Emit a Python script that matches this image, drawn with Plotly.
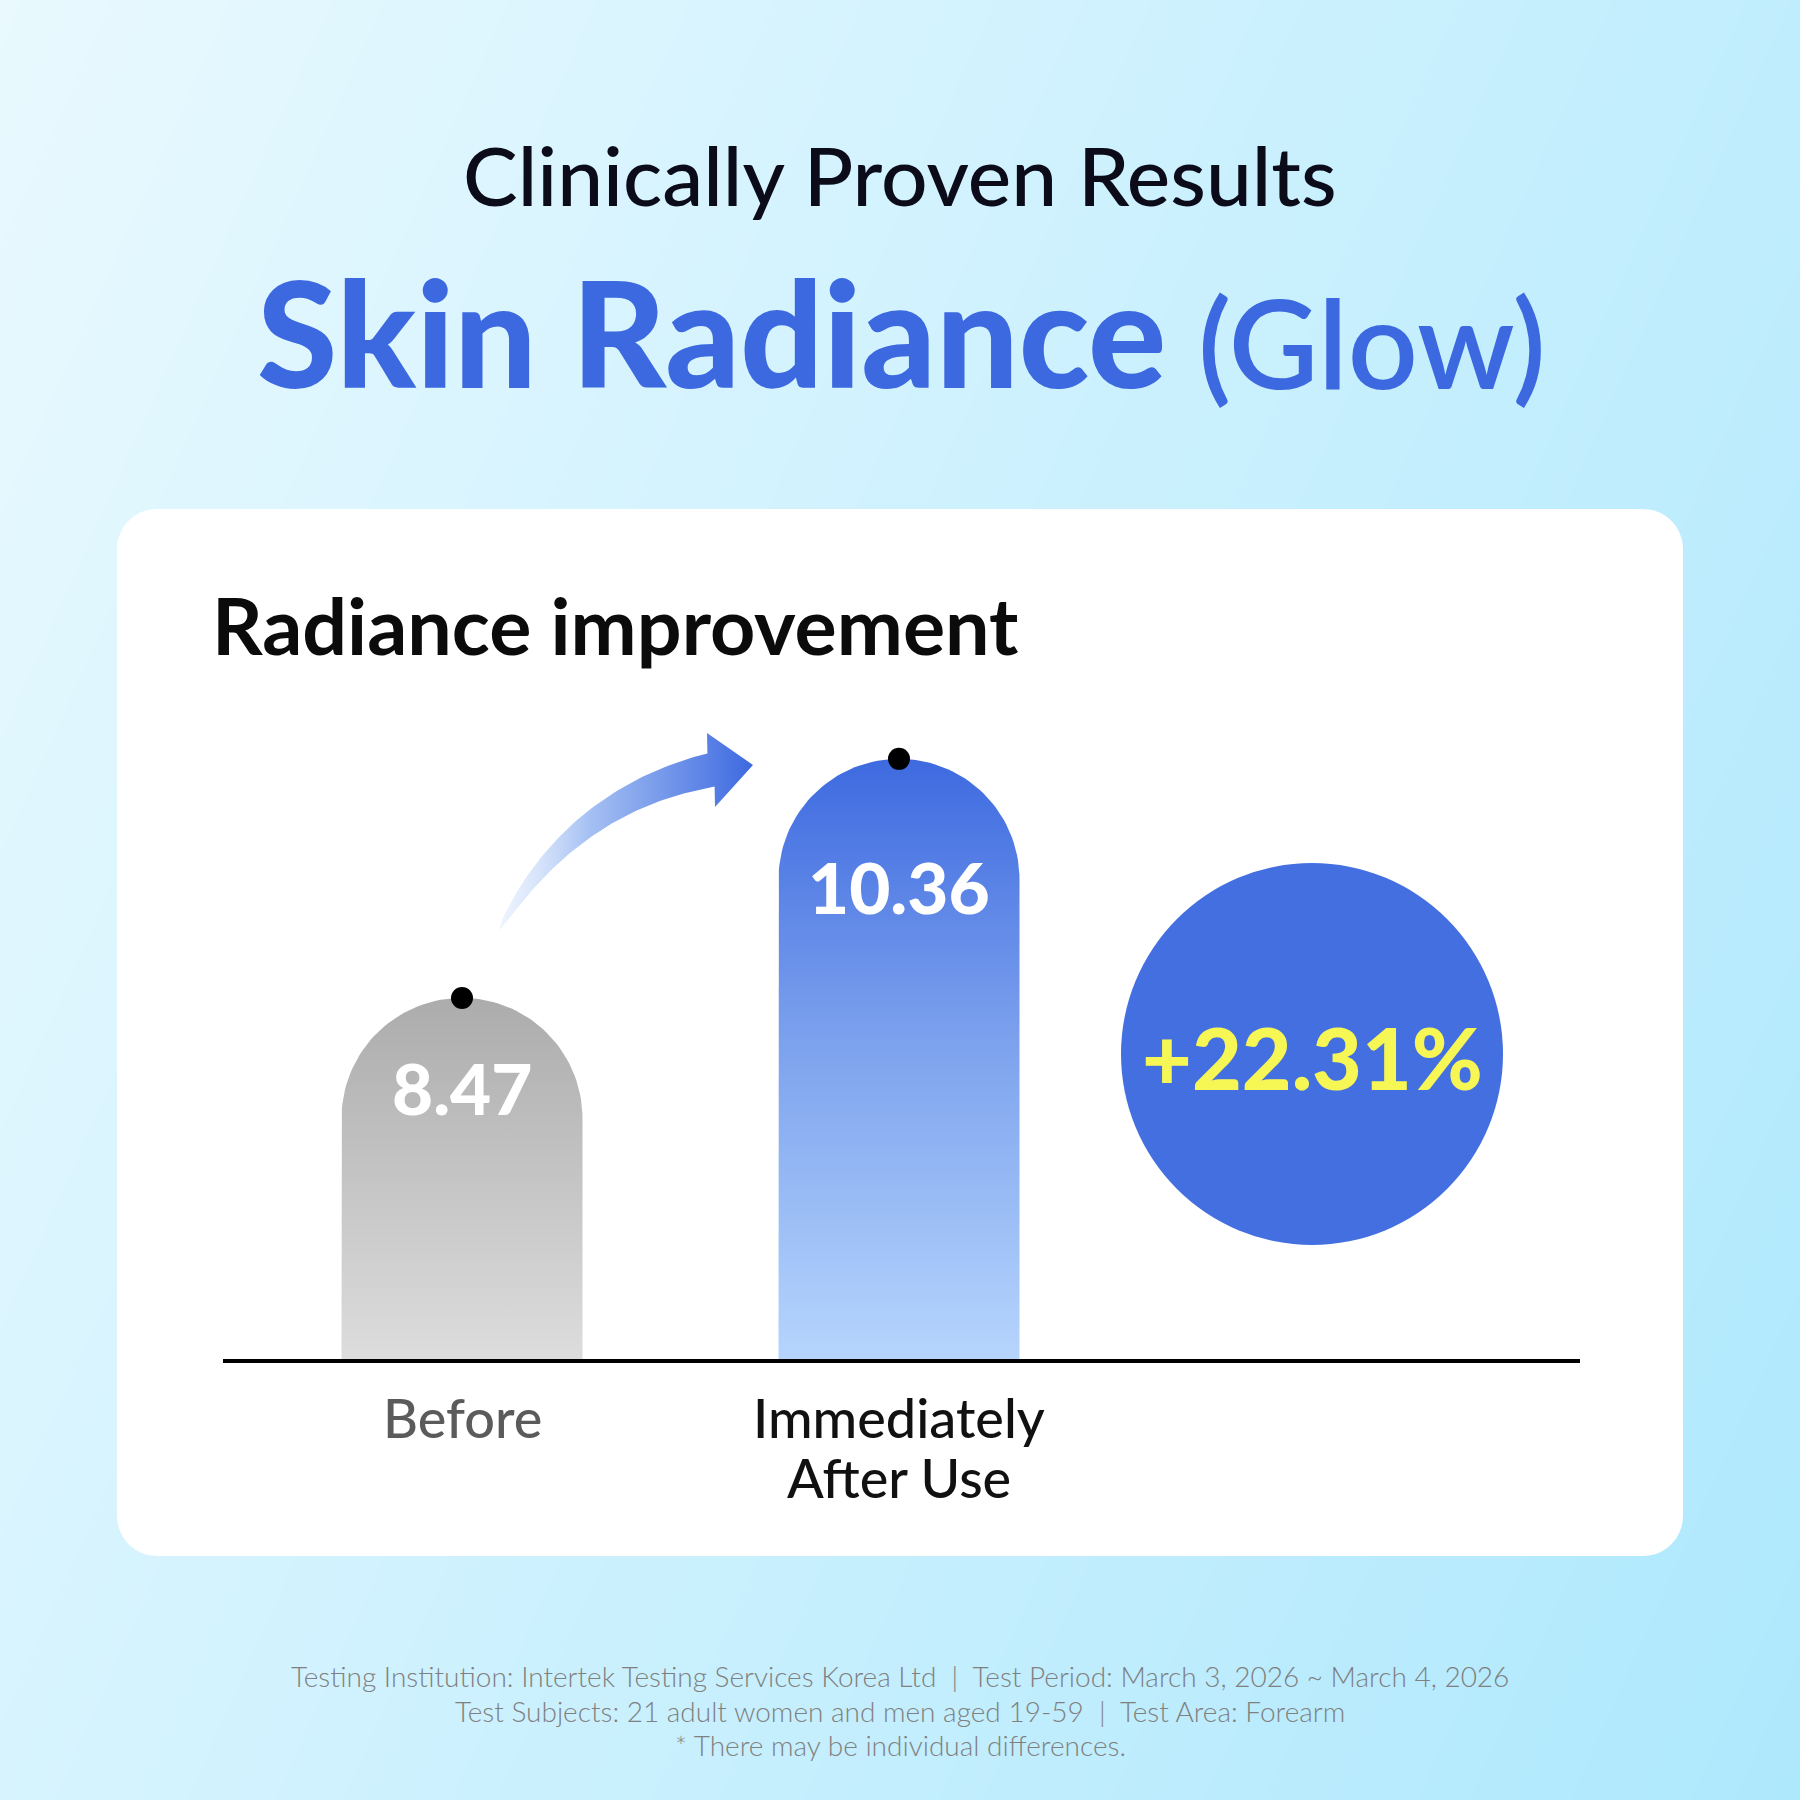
import numpy as np
import plotly.graph_objects as go

# ---- data ----
categories = ["Before", "Immediately<br>After Use"]
values = [8.47, 10.36]
value_labels = ["8.47", "10.36"]
change_label = "+22.31%"

title_top = "Clinically Proven Results"
title_main = "Skin Radiance"
title_sub = "(Glow)"
chart_title = "Radiance improvement"
footnotes = [
    "Testing Institution: Intertek Testing Services Korea Ltd  |  Test Period: March 3, 2026 ~ March 4, 2026",
    "Test Subjects: 21 adult women and men aged 19-59  |  Test Area: Forearm",
    "* There may be individual differences.",
]

# ---- layout constants (pixels, y grows downward) ----
W = 1800
FONT = "Lato"
BLUE = "#3c69e0"

BASE_PX = 1361       # pixel row of the bar baseline
BASE_VAL = 5.60      # value sitting on the baseline
PX_PER_UNIT = 126.5  # vertical pixels per value unit
CAT0_PX = 462        # centre of first bar
CAT_STEP_PX = 437    # distance between bar centres
BAR_HALF_PX = 120.5

bar_scales = [
    [[0, "#dddddd"], [1, "#acacac"]],
    [[0, "#b6d5fd"], [0.5, "#80a5ee"], [1, "#3e6ae0"]],
]
label_shift = [-90, -128]
cat_colors = ["#5b5b5b", "#111111"]

fig = go.Figure()

# background gradient
fig.add_trace(go.Heatmap(
    x=[0, W], y=[0, W], z=[[0, 0.69], [0.31, 1]],
    zsmooth="best", showscale=False, hoverinfo="skip",
    colorscale=[[0, "#e9f9fe"], [1, "#aee8fd"]],
))


# white rounded card
def rounded_rect(x0, y0, x1, y1, r, n=12):
    xs, ys = [], []
    corners = [(x1 - r, y0 + r, -np.pi / 2, 0), (x1 - r, y1 - r, 0, np.pi / 2),
               (x0 + r, y1 - r, np.pi / 2, np.pi), (x0 + r, y0 + r, np.pi, 1.5 * np.pi)]
    for cx, cy, a0, a1 in corners:
        t = np.linspace(a0, a1, n)
        xs += list(cx + r * np.cos(t))
        ys += list(cy + r * np.sin(t))
    return xs + [xs[0]], ys + [ys[0]]


cx, cy = rounded_rect(117, 509, 1683, 1556, 40)
fig.add_trace(go.Scatter(x=cx, y=cy, fill="toself", fillcolor="white",
                         mode="lines", line=dict(width=0), hoverinfo="skip"))

# curved arrow: tapered quadratic curve plus a triangular head
p0, p1, p2 = np.array([499, 930]), np.array([572, 800]), np.array([711, 770])
tt = np.linspace(0, 1, 60)[:, None]
curve = (1 - tt) ** 2 * p0 + 2 * (1 - tt) * tt * p1 + tt ** 2 * p2
tang = 2 * (1 - tt) * (p1 - p0) + 2 * tt * (p2 - p1)
tang = tang / np.linalg.norm(tang, axis=1, keepdims=True)
norm = np.column_stack([tang[:, 1], -tang[:, 0]])
half = 17 * tt[:, 0] ** 0.6
upper = curve + norm * half[:, None]
lower = curve - norm * half[:, None]
head = np.array([[707, 733], [753, 765], [715, 807]])
outline = np.vstack([upper, head, lower[::-1], upper[:1]])
fig.add_trace(go.Scatter(
    x=outline[:, 0], y=outline[:, 1], fill="toself", mode="lines", line=dict(width=0),
    fillgradient=dict(type="horizontal",
                      colorscale=[[0, "rgba(215,229,252,0.4)"], [0.35, "#a6c1f3"], [1, "#3d69e0"]]),
    hoverinfo="skip",
))

# bars with rounded tops on their own value axis
hw = BAR_HALF_PX / CAT_STEP_PX
ry = BAR_HALF_PX / PX_PER_UNIT
t = np.linspace(np.pi, 0, 80)
for i, v in enumerate(values):
    xs = [i - hw] + list(i + hw * np.cos(t)) + [i + hw, i - hw]
    ys = [BASE_VAL] + list(v - ry + ry * np.sin(t)) + [BASE_VAL, BASE_VAL]
    fig.add_trace(go.Scatter(
        x=xs, y=ys, xaxis="x2", yaxis="y2", fill="toself", mode="lines",
        line=dict(width=0), hoverinfo="skip",
        fillgradient=dict(type="vertical", colorscale=bar_scales[i]),
    ))

fig.add_trace(go.Scatter(
    x=list(range(len(values))), y=values, xaxis="x2", yaxis="y2", mode="markers",
    marker=dict(color="black", size=22), hoverinfo="skip",
))

# baseline and percentage circle
fig.add_shape(type="line", x0=223, x1=1580, y0=BASE_PX, y1=BASE_PX,
              line=dict(color="black", width=4), layer="above")
fig.add_shape(type="circle", x0=1121, x1=1503, y0=863, y1=1245,
              fillcolor="#436fe0", line=dict(width=0), layer="above")

ann = []


def text(x, y, s, size, color, weight=400, xanchor="center", **kw):
    ann.append(dict(x=x, y=y, text=s, showarrow=False, xanchor=xanchor, yanchor="middle",
                    font=dict(family=FONT, size=size, color=color, weight=weight), **kw))


text(900, 174, title_top, 82, "#0b0b1a", 500)
text(1168, 331, title_main, 146, BLUE, 900, xanchor="right")
text(1196, 341, title_sub, 123, BLUE, 600, xanchor="left")
text(210, 624, chart_title, 79, "#0b0b0b", 700, xanchor="left")

for i, v in enumerate(values):
    text(i, v, value_labels[i], 71, "white", 900, xref="x2", yref="y2", yshift=label_shift[i])
    for k, line in enumerate(categories[i].split("<br>")):
        text(i, BASE_VAL, line, 54, cat_colors[i], 500, xref="x2", yref="y2", yshift=-56 - 60 * k)

text(1312, 1056, change_label, 86, "#f6f654", 900)

for k, line in enumerate(footnotes):
    text(900, 1676 + 34.5 * k, line, 28, "#808080", 300)

for a in ann:
    a.setdefault("xref", "x")
    a.setdefault("yref", "y")

fig.update_layout(
    width=W, height=W, margin=dict(l=0, r=0, t=0, b=0),
    showlegend=False, plot_bgcolor="white", paper_bgcolor="white",
    annotations=ann,
    xaxis=dict(range=[0, W], visible=False, fixedrange=True),
    yaxis=dict(range=[W, 0], visible=False, fixedrange=True),
    xaxis2=dict(range=[-CAT0_PX / CAT_STEP_PX, (W - CAT0_PX) / CAT_STEP_PX],
                overlaying="x", anchor="y2", visible=False, fixedrange=True),
    yaxis2=dict(range=[BASE_VAL - (W - BASE_PX) / PX_PER_UNIT, BASE_VAL + BASE_PX / PX_PER_UNIT],
                overlaying="y", anchor="x2", visible=False, fixedrange=True),
)

fig.write_html("out.html", config=dict(displayModeBar=False),
               post_script="document.body.style.margin='0';")
